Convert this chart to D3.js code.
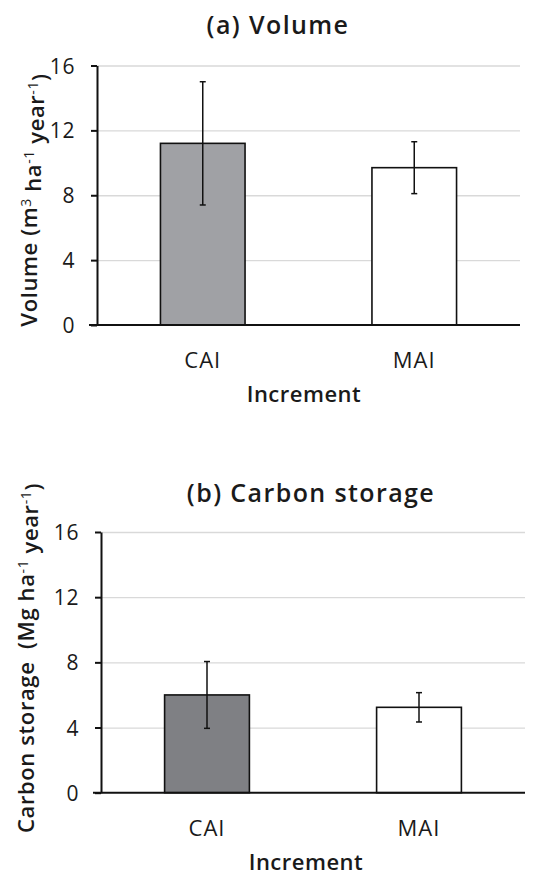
<!DOCTYPE html>
<html><head>
<meta charset="utf-8">
<title>Volume and carbon storage increment</title>
<script src="https://d3js.org/d3.v7.min.js"></script>
<style>
  body { margin: 0; background: #fff; }
  svg text { font-family: "Open Sans", "Noto Sans", sans-serif; fill: #1a1a1a; }
  .gridlines line { stroke: #d9d9d9; stroke-width: 1.3; }
  .gridlines .domain { stroke: none; }
  .axis .domain, .axis line { stroke: #111; stroke-width: 2; }
  .axis text { font-size: 21px; letter-spacing: 0.6px; }
</style>
</head>
<body>
<svg id="chart" width="535" height="875"></svg>
<script>

// data
const categories = ["CAI", "MAI"];
const yTicks = [0, 4, 8, 12, 16];

const volumeMeans = [11.2, 9.7];
const volumeErrors = [3.8, 1.6];

const carbonMeans = [6.0, 5.24];
const carbonErrors = [2.05, 0.9];

const svg = d3.select("svg#chart");

// one panel = title, gridlines, axes, bars and error bars
function drawPanel(p) {
  let g = svg.append("g");

  const x = d3.scaleBand().domain(categories)
              .range([p.left, p.right])
              .paddingInner(0.6).paddingOuter(0.3);
  const y = d3.scaleLinear().domain([0, 16]).range([p.bottom, p.top]);

  // gridlines
  g.append("g").attr("class", "gridlines")
    .attr("transform", "translate(" + p.left + ",0)")
    .call(d3.axisRight(y).tickValues(yTicks.slice(1)).tickSize(p.right - p.left).tickFormat(""));

  // bars
  const rows = categories.map((c, i) => ({cat: c, mean: p.means[i], err: p.errors[i], fill: p.fills[i]}));
  g.selectAll("rect.bar").data(rows).join("rect")
    .attr("class", "bar")
    .attr("x", d => x(d.cat))
    .attr("width", x.bandwidth())
    .attr("y", d => y(d.mean))
    .attr("height", d => y(0) - y(d.mean))
    .attr("fill", d => d.fill)
    .attr("stroke", "#111")
    .attr("stroke-width", 1.6);

  // error bars
  const cap = 3;
  rows.forEach(d => {
    let cx = x(d.cat) + x.bandwidth() / 2;
    let eb = g.append("g").attr("stroke", "#111").attr("stroke-width", 1.5);
    eb.append("line").attr("x1", cx).attr("x2", cx)
      .attr("y1", y(d.mean + d.err)).attr("y2", y(d.mean - d.err));
    eb.append("line").attr("x1", cx - cap).attr("x2", cx + cap)
      .attr("y1", y(d.mean + d.err)).attr("y2", y(d.mean + d.err));
    eb.append("line").attr("x1", cx - cap).attr("x2", cx + cap)
      .attr("y1", y(d.mean - d.err)).attr("y2", y(d.mean - d.err));
  });

  // y axis
  let leftAxis = g.append("g").attr("class", "axis")
    .attr("transform", "translate(" + p.left + ",0)")
    .call(d3.axisLeft(y).tickValues(yTicks).tickSize(6).tickSizeOuter(0).tickPadding(16));
  leftAxis.selectAll("text").attr("dy", "0.36em");

  // x axis line at zero (extends a little left of the y axis)
  g.append("line")
    .attr("x1", p.left - 8).attr("x2", p.right)
    .attr("y1", y(0)).attr("y2", y(0))
    .attr("stroke", "#111").attr("stroke-width", 2);

  // category labels
  g.selectAll("text.cat").data(categories).join("text")
    .attr("class", "cat")
    .attr("x", d => x(d) + x.bandwidth() / 2)
    .attr("y", y(0) + 43)
    .attr("text-anchor", "middle")
    .style("font-size", "22px").style("letter-spacing", "1px")
    .text(d => d);

  // x axis title
  g.append("text")
    .attr("x", p.xTitleX).attr("y", y(0) + 77)
    .attr("text-anchor", "middle")
    .style("font-size", "22px").style("font-weight", 600).style("letter-spacing", "0.5px")
    .text("Increment");

  // panel title
  g.append("text")
    .attr("x", p.titleX).attr("y", p.titleY)
    .attr("text-anchor", "middle")
    .style("font-size", "25px").style("font-weight", 600).style("letter-spacing", "1.4px")
    .text(p.title);

  // y axis title with superscripts
  let yt = g.append("text")
    .attr("transform", "translate(" + p.yTitleX + "," + p.yTitleY + ") rotate(-90)")
    .attr("text-anchor", "middle")
    .style("font-size", "22px").style("font-weight", 600).style("letter-spacing", "0.6px")
    .style("white-space", "pre");
  p.yTitle.forEach(part => {
    let t = yt.append("tspan").text(part.t);
    if (part.sup) t.attr("dy", "-0.45em").style("font-size", "14px").style("font-weight", 400);
    else if (part.after) t.attr("dy", "0.45em");
  });
}

drawPanel({
  left: 97, right: 520, top: 65.5, bottom: 325,
  means: volumeMeans, errors: volumeErrors,
  fills: ["#a0a1a5", "#ffffff"],
  title: "(a) Volume", titleX: 278, titleY: 34,
  xTitleX: 304,
  yTitleX: 37, yTitleY: 200,
  yTitle: [{t: "Volume (m"}, {t: "3", sup: true}, {t: " ha", after: true}, {t: "-1", sup: true},
           {t: " year", after: true}, {t: "-1", sup: true}, {t: ")", after: true}]
});

drawPanel({
  left: 101, right: 525, top: 532, bottom: 792.7,
  means: carbonMeans, errors: carbonErrors,
  fills: ["#7f8084", "#ffffff"],
  title: "(b) Carbon storage", titleX: 311, titleY: 502,
  xTitleX: 306,
  yTitleX: 34, yTitleY: 658,
  yTitle: [{t: "Carbon storage  (Mg ha"}, {t: "-1", sup: true}, {t: " year", after: true},
           {t: "-1", sup: true}, {t: ")", after: true}]
});

</script>
</body>
</html>
